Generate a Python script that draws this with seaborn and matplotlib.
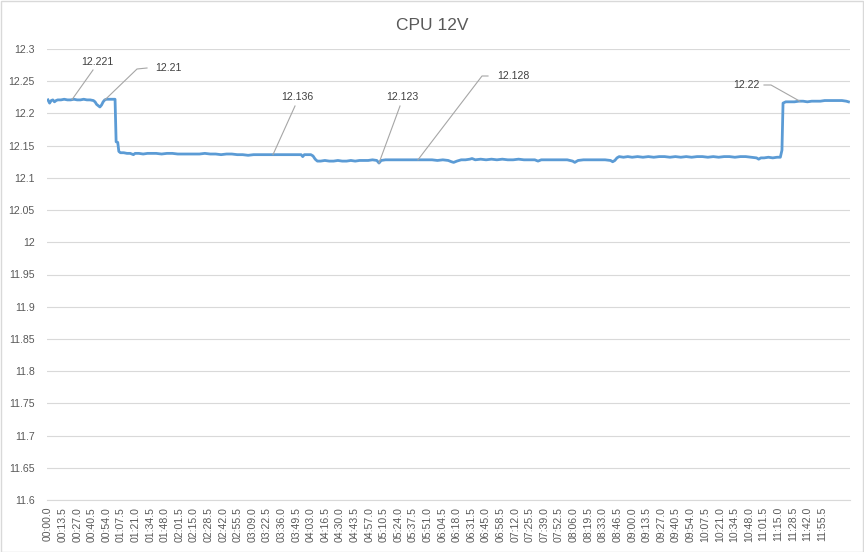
import numpy as np
import pandas as pd
import matplotlib
matplotlib.use("Agg")
import matplotlib.pyplot as plt
from matplotlib.lines import Line2D
from matplotlib.patches import Rectangle
from matplotlib.transforms import IdentityTransform
import seaborn as sns

# ---------------- data ----------------
title = "CPU 12V"
time_s = [
    0, 1.5, 3, 4.5, 6, 7.5, 9, 12, 15, 18, 21, 24, 27, 30, 33, 36, 39, 42, 43.5, 45, 46.5, 48, 49.5,
    51, 52.5, 54, 57, 60, 62,
    63, 64.5, 65.5,
    67, 70, 73, 76, 79, 80.5, 84, 88, 92, 96, 100, 105, 110, 115, 120, 125, 130, 135, 140, 145, 150,
    155, 160, 165, 170, 175, 180, 185, 190, 195, 200, 210, 220, 230, 234, 235.5, 237, 240, 243, 245,
    247, 249,
    252, 256, 260, 264, 268, 272, 276, 280, 284, 288, 292, 296, 300, 304, 306, 308, 312, 316, 320,
    325, 330, 335, 340, 345, 350, 355, 360, 365, 370, 373, 375, 378, 382, 386, 390, 392, 395, 400,
    405, 410, 415, 420, 425, 430, 435, 440, 445, 450, 453, 456, 460, 465, 470, 475, 480, 485, 487,
    490, 495, 500, 505, 510, 515, 520, 522, 524, 526,
    528, 532, 536, 540, 545, 550, 555, 560, 565, 570, 575, 580, 585, 590, 595, 600, 605, 610, 615,
    620, 625, 630, 635, 640, 645, 650, 655, 657, 659, 662, 666, 670, 674, 677, 678.5,
    679.5,
    682, 686, 690, 694, 698, 702, 706, 710, 714, 718, 722, 726, 730, 734, 738, 740,
]
volts = [
    12.221, 12.216, 12.220, 12.221, 12.218, 12.220, 12.221, 12.221, 12.222, 12.221, 12.221, 12.222,
    12.221, 12.221, 12.222, 12.221, 12.221, 12.220, 12.218, 12.214, 12.212, 12.210, 12.213,
    12.218, 12.221, 12.222, 12.222, 12.222, 12.222,
    12.156, 12.155, 12.141,
    12.139, 12.139, 12.138, 12.138, 12.136, 12.138, 12.138, 12.137, 12.138, 12.138, 12.138, 12.137,
    12.138, 12.138, 12.137, 12.137, 12.137, 12.137, 12.137, 12.138, 12.137,
    12.137, 12.136, 12.137, 12.137, 12.136, 12.136, 12.135, 12.136, 12.136, 12.136, 12.136, 12.136,
    12.136, 12.136, 12.133, 12.136, 12.136, 12.136, 12.134,
    12.129, 12.126,
    12.126, 12.127, 12.126, 12.126, 12.127, 12.126, 12.126, 12.127, 12.126, 12.127, 12.127, 12.127,
    12.128, 12.127, 12.123, 12.127, 12.128, 12.128, 12.128,
    12.128, 12.128, 12.128, 12.128, 12.128, 12.128, 12.128, 12.127, 12.128, 12.127, 12.125, 12.124,
    12.126, 12.128, 12.128, 12.129, 12.130, 12.128, 12.129,
    12.128, 12.129, 12.128, 12.129, 12.128, 12.128, 12.129, 12.128, 12.128, 12.128, 12.126, 12.128,
    12.128, 12.128, 12.128, 12.128, 12.128, 12.126, 12.124,
    12.127, 12.128, 12.128, 12.128, 12.128, 12.128, 12.127, 12.125, 12.127, 12.131,
    12.133, 12.132, 12.133, 12.132, 12.133, 12.132, 12.133, 12.132, 12.133, 12.133, 12.132, 12.133,
    12.132, 12.133, 12.132, 12.133, 12.133, 12.132, 12.133,
    12.132, 12.133, 12.133, 12.132, 12.133, 12.133, 12.132, 12.131, 12.129, 12.131, 12.131, 12.132,
    12.131, 12.132, 12.132, 12.143,
    12.216,
    12.218, 12.218, 12.218, 12.219, 12.219, 12.218, 12.219, 12.219, 12.219, 12.220, 12.220, 12.220,
    12.220, 12.220, 12.219, 12.218,
]
# x tick labels every 13.5 s
tick_step_s = 13.5
n_ticks = 54
y_ticks = [11.6, 11.65, 11.7, 11.75, 11.8, 11.85, 11.9, 11.95, 12.0, 12.05, 12.1, 12.15,
           12.2, 12.25, 12.3]

# data labels: text, time of the pointed sample
label_texts = ["12.221", "12.21", "12.136", "12.123", "12.128", "12.22"]
label_times = [22.2, 52.7, 208, 306, 342, 695]

df = pd.DataFrame({"t": time_s, "v": volts})

# ---------------- figure ----------------
W, H = 864, 552
fig = plt.figure(figsize=(W / 100, H / 100), dpi=100)
fig.patch.set_facecolor("white")
plt.rcParams["font.family"] = ["Liberation Sans", "DejaVu Sans"]

ax = fig.add_axes([47 / W, 1 - 500 / H, (850 - 47) / W, (500 - 49) / H])
sns.lineplot(data=df, x="t", y="v", ax=ax, color="#5b9bd5", linewidth=2.0,
             estimator=None, sort=False, zorder=3)

ax.set_xlim(-0.9, 741.4)
ax.set_ylim(11.6, 12.3)

def fmt_t(s):
    m = int(s // 60)
    sec = s - 60 * m
    return f"{m:02d}:{sec:04.1f}"

xt = [i * tick_step_s for i in range(n_ticks)]
ax.set_xticks(xt)
ax.set_xticklabels([fmt_t(s) for s in xt], rotation=90, fontsize=7.6, color="#595959")
ax.set_yticks(y_ticks)
ax.set_yticklabels([f"{v:g}" for v in y_ticks], fontsize=7.6, color="#595959")
ax.tick_params(axis="both", length=0)
ax.tick_params(axis="y", pad=9)
ax.tick_params(axis="x", pad=5)
ax.set_xlabel("")
ax.set_ylabel("")
ax.grid(axis="y", color="#d9d9d9", linewidth=0.8, zorder=0)
ax.grid(axis="x", visible=False)
for s in ["top", "right", "left"]:
    ax.spines[s].set_visible(False)
ax.spines["bottom"].set_color("#d9d9d9")
ax.spines["bottom"].set_linewidth(0.8)
ax.set_facecolor("white")

fig.text(0.5, 1 - 25 / H, title, ha="center", va="center", fontsize=12.5, color="#595959")

# border
fig.add_artist(Rectangle((0.5 / W, 0.5 / H), 1 - 1.5 / W, 1 - 1.5 / H, transform=fig.transFigure,
                         fill=False, edgecolor="#d9d9d9", linewidth=1.0))

# data labels with leader lines (layout in image pixels, y from top)
text_pos = [(97, 62), (168, 68), (297, 97), (402, 97), (513, 76), (746, 85)]
leader_pts = [
    [(93, 70)],
    [(147, 68), (137, 69)],
    [(295, 106)],
    [(400, 106)],
    [(488, 76), (482, 76)],
    [(764, 85), (771, 85)],
]
fig.canvas.draw()
for txt, tt, (tx, ty), pts in zip(label_texts, label_times, text_pos, leader_pts):
    vv = float(np.interp(tt, time_s, volts))
    ex, ey = ax.transData.transform((tt, vv))
    xs = [p[0] for p in pts] + [ex]
    ys = [H - p[1] for p in pts] + [ey]
    fig.add_artist(Line2D(xs, ys, transform=IdentityTransform(), color="#a6a6a6",
                          linewidth=0.8, zorder=4))
    fig.text(tx / W, 1 - ty / H, txt, ha="center", va="center", fontsize=7.6, color="#404040")

fig.savefig("out.png", dpi=100)
